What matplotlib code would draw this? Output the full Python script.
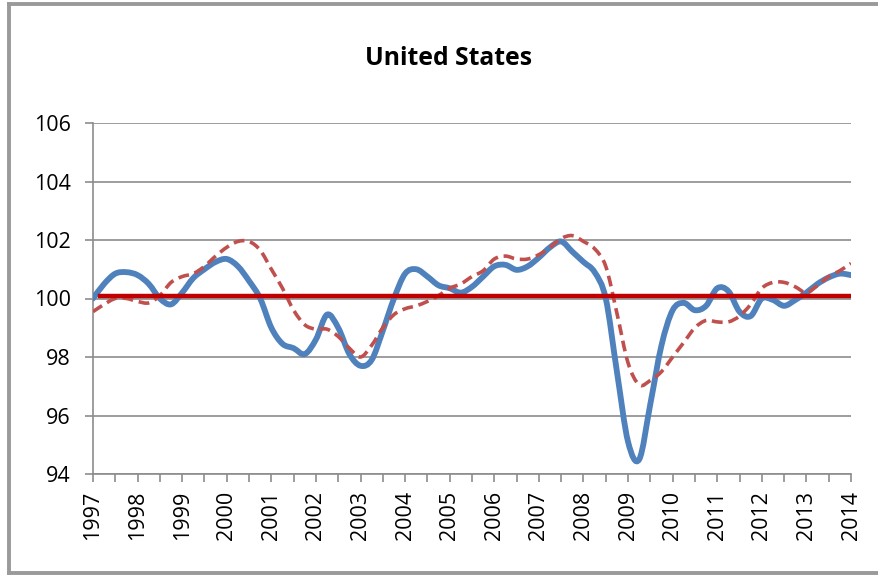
import numpy as np
import matplotlib
matplotlib.use('Agg')
import matplotlib.pyplot as plt
from matplotlib.lines import Line2D
from matplotlib.path import Path
from matplotlib.patches import PathPatch

# ── Data (quarterly, 1997Q1 .. 2014Q1) ─────────────────────────────
start_year = 1997
blue_values = [
    100.0, 100.5, 100.85, 100.9,     # 1997
    100.8, 100.5, 100.0, 99.8,       # 1998
    100.2, 100.7, 101.0, 101.25,     # 1999
    101.35, 101.1, 100.6, 100.0,     # 2000
    99.0, 98.45, 98.3, 98.1,         # 2001
    98.6, 99.45, 99.0, 98.1,         # 2002
    97.7, 97.9, 98.9, 100.0,         # 2003
    100.85, 101.0, 100.75, 100.45,   # 2004
    100.35, 100.2, 100.4, 100.75,    # 2005
    101.1, 101.15, 100.98, 101.1,    # 2006
    101.4, 101.75, 101.95, 101.6,    # 2007
    101.25, 100.9, 100.0, 97.5,      # 2008
    95.1, 94.5, 96.4, 98.4,          # 2009
    99.6, 99.85, 99.6, 99.75,        # 2010
    100.35, 100.25, 99.55, 99.4,     # 2011
    100.0, 99.95, 99.75, 99.95,      # 2012
    100.2, 100.5, 100.72, 100.85,    # 2013
    100.8,                           # 2014
]
red_values = [
    99.55, 99.8, 100.0, 100.0,
    99.9, 99.85, 100.1, 100.55,
    100.75, 100.85, 101.1, 101.45,
    101.75, 101.95, 101.95, 101.65,
    101.0, 100.35, 99.6, 99.1,
    98.95, 98.95, 98.7, 98.3,
    98.0, 98.4, 99.0, 99.45,
    99.65, 99.75, 99.9, 100.1,
    100.35, 100.5, 100.75, 100.95,
    101.35, 101.45, 101.35, 101.35,
    101.5, 101.75, 102.05, 102.15,
    101.95, 101.7, 101.1, 99.5,
    97.8, 97.05, 97.2, 97.5,
    98.0, 98.5, 99.0, 99.25,
    99.2, 99.2, 99.4, 99.8,
    100.35, 100.55, 100.55, 100.4,
    100.2, 100.45, 100.75, 100.95,
    101.2,
]
baseline_value = 100.1
years = list(range(1997, 2015))
y_ticks = [94, 96, 98, 100, 102, 104, 106]


def smooth_path(xs, ys):
    """Bezier path through the points, like a spreadsheet 'smoothed line'."""
    pts = np.column_stack([xs, ys])
    n = len(pts)
    verts = [pts[0]]
    codes = [Path.MOVETO]
    for i in range(n - 1):
        p0 = pts[max(i - 1, 0)]
        p1 = pts[i]
        p2 = pts[i + 1]
        p3 = pts[min(i + 2, n - 1)]
        verts += [p1 + (p2 - p0) / 6.0, p2 - (p3 - p1) / 6.0, p2]
        codes += [Path.CURVE4] * 3
    return Path(verts, codes)


x = start_year + np.arange(len(blue_values)) / 4.0

fig = plt.figure(figsize=(8.79, 5.75), dpi=100)

# outer chart border (open on the right, as in the source)
border_c = '#9a9a9a'
W, H = 879.0, 575.0
for xs, ys in [([9 / W, 1.0], [1 - 3.5 / H, 1 - 3.5 / H]),
               ([9 / W, 9 / W], [1 - 3.5 / H, 1 - 572.5 / H]),
               ([9 / W, 1.0], [1 - 572.5 / H, 1 - 572.5 / H])]:
    fig.add_artist(Line2D(xs, ys, transform=fig.transFigure, color=border_c,
                          linewidth=2.8))

ax = fig.add_axes([93 / W, 1 - 474 / H, (851 - 93) / W, (474 - 123) / H])

grid_c = '#8c8c8c'
ax.set_ylim(94, 106)
ax.set_xlim(1997, 2014)
ax.set_yticks(y_ticks)
ax.set_xticks(years)
ax.set_xticks(np.arange(1997.5, 2014, 1.0), minor=True)
ax.set_xticklabels([str(y) for y in years], rotation=90, family='Open Sans')
ax.set_yticklabels([str(v) for v in y_ticks], family='Open Sans')
ax.yaxis.grid(True, color=grid_c, linewidth=1.2)
ax.set_axisbelow(True)

for side in ['top', 'right']:
    ax.spines[side].set_visible(False)
for side in ['left', 'bottom']:
    ax.spines[side].set_color(grid_c)
    ax.spines[side].set_linewidth(1.2)

ax.tick_params(axis='both', which='both', color=grid_c, width=1.2, length=6,
               labelsize=15.5, labelcolor='black', direction='out')
ax.tick_params(axis='y', pad=10)
ax.tick_params(axis='x', which='major', pad=6)

ax.add_patch(PathPatch(smooth_path(x, blue_values), fill=False,
                       edgecolor='#4f81bd', linewidth=4.2, joinstyle='round',
                       capstyle='round', zorder=3))
ax.add_patch(PathPatch(smooth_path(x, red_values), fill=False,
                       edgecolor='#c0504d', linewidth=2.6,
                       linestyle=(0, (3, 1.6)), zorder=4))
ax.plot([x[0] + 0.15, x[-1]], [baseline_value, baseline_value], color='#c00000',
        linewidth=3.2, zorder=5)

fig.text(448.5 / W, 1 - 65 / H, 'United States', ha='center', va='baseline',
         fontsize=17.8, fontweight='bold', family='Open Sans')

fig.savefig('out.png', dpi=100, facecolor='white')
